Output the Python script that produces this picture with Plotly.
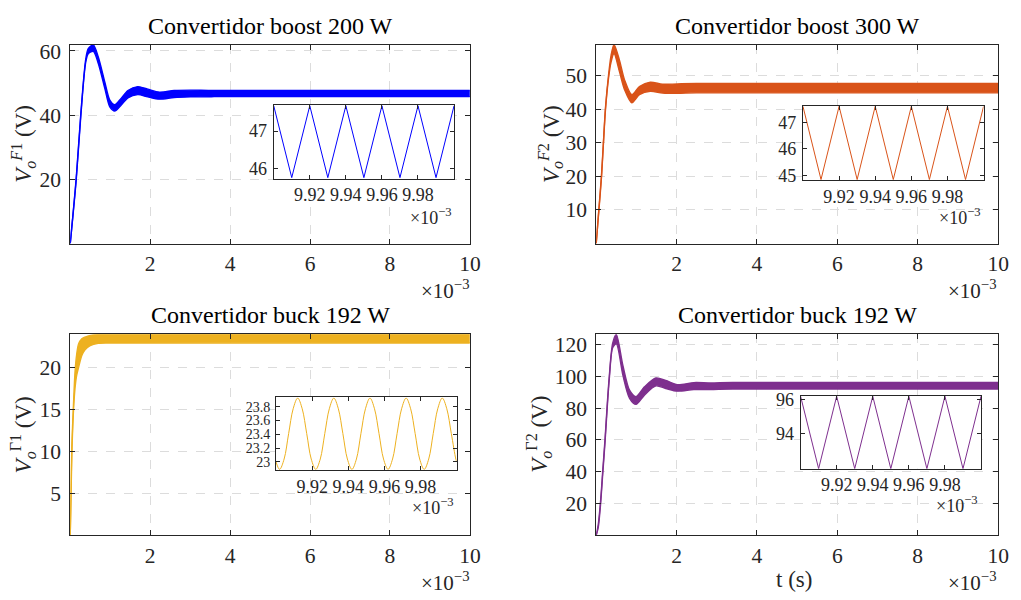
import plotly.graph_objects as go

W, H = 1021, 600

# ---------------- data (time in ms, voltage in V) ----------------
# Boost 200 W: upper / lower edge of the ripple band
t_f1 = [0, 0.149, 0.264, 0.388, 0.454, 0.578, 0.70, 0.866, 0.99, 1.114, 1.238,
        1.444, 1.69, 1.94, 2.23, 2.6, 3.01, 3.6, 10.0]
hi_f1 = [0, 20.3, 40.4, 57.5, 60.8, 61.9, 58.2, 50.3, 44.7, 43.3, 44.7,
         47.7, 48.9, 48.1, 47.2, 47.7, 47.8, 47.68, 47.68]
lo_f1 = [0, 19.7, 39.6, 56.5, 59.2, 59.9, 56.2, 48.3, 42.6, 41.3, 42.6,
         45.4, 46.4, 45.7, 45.0, 45.5, 45.7, 45.77, 45.77]

# Boost 300 W
t_f2 = [0, 0.066, 0.131, 0.18, 0.23, 0.31, 0.37, 0.443, 0.58, 0.705, 0.886,
        1.075, 1.345, 1.65, 2.02, 2.5, 10.0]
hi_f2 = [0, 10.3, 20.3, 30.3, 40.3, 50.5, 56.0, 59.2, 54.5, 48.7, 44.3,
         46.7, 48.0, 47.4, 47.5, 47.61, 47.61]
lo_f2 = [0, 9.7, 19.7, 29.7, 39.7, 49.5, 54.0, 56.5, 51.1, 45.8, 41.9,
         44.3, 45.3, 44.8, 44.7, 44.84, 44.84]

# Buck 192 W (first)
t_g1 = [0, 0.02, 0.04, 0.08, 0.12, 0.16, 0.21, 0.29, 0.37, 0.5, 0.7, 1.0, 10.0]
hi_g1 = [0, 5.5, 10.5, 15.5, 19.5, 21.5, 22.8, 23.4, 23.6, 23.8, 23.9, 23.925, 23.925]
lo_g1 = [0, 4.5, 9.5, 14.7, 17.5, 19.0, 20.0, 21.4, 22.1, 22.6, 22.85, 22.89, 22.89]

# Buck 192 W (second)
t_g2 = [0, 0.05, 0.107, 0.164, 0.221, 0.271, 0.328, 0.41, 0.50, 0.665, 0.83,
        0.99, 1.2, 1.485, 1.73, 2.02, 2.43, 2.84, 3.4, 10.0]
hi_g2 = [0, 6.5, 21, 41, 61, 81, 101, 121, 126.4, 106.8, 91.3,
         87.2, 93.4, 99.0, 97.5, 94.8, 96.1, 95.9, 96.17, 96.17]
lo_g2 = [0, 4.7, 19, 39, 59, 79, 99, 118, 120.5, 100.6, 86.2,
         82.4, 88.2, 94.0, 92.4, 90.7, 91.7, 91.7, 92.0, 92.0]

# steady-state detail, last 0.1 ms
t_zoom = [9.90, 9.91, 9.92, 9.93, 9.94, 9.95, 9.96, 9.97, 9.98, 9.99, 10.00]
v_f1_zoom = [47.67, 45.77, 47.67, 45.77, 47.67, 45.77, 47.67, 45.77, 47.67, 45.77, 47.67]
v_f2_zoom = [47.61, 44.84, 47.61, 44.84, 47.61, 44.84, 47.61, 44.84, 47.61, 44.84, 47.61]
v_g2_zoom = [96.17, 92.0, 96.17, 92.0, 96.17, 92.0, 96.17, 92.0, 96.17, 92.0, 96.17]

t_g1_zoom = [9.900, 9.902, 9.9045, 9.907, 9.9095, 9.912, 9.9145, 9.917, 9.9195,
             9.922, 9.9245, 9.927, 9.9295, 9.932, 9.9345, 9.937, 9.9395,
             9.942, 9.9445, 9.947, 9.9495, 9.952, 9.9545, 9.957, 9.9595,
             9.962, 9.9645, 9.967, 9.9695, 9.972, 9.9745, 9.977, 9.9795,
             9.982, 9.9845, 9.987, 9.9895, 9.992, 9.9945, 9.997, 9.9995, 10.000]
v_g1_zoom = [23.0, 22.89, 23.04, 23.41, 23.77, 23.925, 23.77, 23.41, 23.04,
             22.89, 23.04, 23.41, 23.77, 23.925, 23.77, 23.41, 23.04,
             22.89, 23.04, 23.41, 23.77, 23.925, 23.77, 23.41, 23.04,
             22.89, 23.04, 23.41, 23.77, 23.925, 23.77, 23.41, 23.04,
             22.89, 23.04, 23.41, 23.77, 23.925, 23.77, 23.41, 23.04, 23.0]

x_ticks = [2, 4, 6, 8, 10]
zoom_x_ticks = [9.92, 9.94, 9.96, 9.98]
titles = ["Convertidor boost 200 W", "Convertidor boost 300 W",
          "Convertidor buck 192 W", "Convertidor buck 192 W"]
ylabels = ["<i>V</i><sub><i>o</i></sub><sup><i>F</i>1</sup> (V)",
           "<i>V</i><sub><i>o</i></sub><sup><i>F</i>2</sup> (V)",
           "<i>V</i><sub><i>o</i></sub><sup>Γ1</sup> (V)",
           "<i>V</i><sub><i>o</i></sub><sup>Γ2</sup> (V)"]
colors = ["#0000FF", "#D95319", "#EDB120", "#7E2F8E"]

FONT = "Liberation Serif"
AX = "#262626"


def px(x):
    return x / W


def py(y):
    return 1 - y / H


fig = go.Figure()

# main panels: pixel boxes (left, right, top, bottom)
main_boxes = [(71, 475, 39.3, 242), (602.7, 1009, 39.3, 242),
              (71, 475, 334.3, 539), (602.7, 1009, 334.3, 539)]
inset_boxes = [(276.7, 459, 100.5, 176), (811.7, 994.3, 101.7, 177.3),
               (279, 461.7, 398.7, 472.7), (809.3, 991.7, 397, 471.3)]

bands = [(t_f1, hi_f1, lo_f1), (t_f2, hi_f2, lo_f2),
         (t_g1, hi_g1, lo_g1), (t_g2, hi_g2, lo_g2)]
zooms = [(t_zoom, v_f1_zoom, "linear"), (t_zoom, v_f2_zoom, "linear"),
         (t_g1_zoom, v_g1_zoom, "spline"), (t_zoom, v_g2_zoom, "linear")]

main_yranges = [[0, 62], [0, 59.2], [0, 23.95], [0, 126.6]]
main_yticks = [[20, 40, 60], [10, 20, 30, 40, 50], [5, 10, 15, 20],
               [20, 40, 60, 80, 100, 120]]
zoom_yranges = [[45.74, 47.70], [44.82, 47.63], [22.88, 23.935], [92.0, 96.2]]
zoom_yticks = [[46, 47], [45, 46, 47], [23, 23.2, 23.4, 23.6, 23.8], [94, 96]]
zoom_ytext = [["46", "47"], ["45", "46", "47"],
              ["23", "23.2", "23.4", "23.6", "23.8"], ["94", "96"]]
zoom_yfont = [18, 18, 14, 18]

layout = dict(width=W, height=H, autosize=False,
              margin=dict(l=0, r=0, t=0, b=0),
              paper_bgcolor="white", plot_bgcolor="white",
              showlegend=False, font=dict(family=FONT, color=AX))

for i in range(4):
    n = i + 1
    ax_sfx = "" if n == 1 else str(n)
    t, hi, lo = bands[i]
    c = colors[i]
    fig.add_trace(go.Scatter(x=t, y=lo, mode="lines",
                             line=dict(color=c, width=1.4, shape="spline", smoothing=0.8),
                             xaxis="x" + ax_sfx, yaxis="y" + ax_sfx, hoverinfo="skip"))
    fig.add_trace(go.Scatter(x=t, y=hi, mode="lines", fill="tonexty", fillcolor=c,
                             line=dict(color=c, width=1.4, shape="spline", smoothing=0.8),
                             xaxis="x" + ax_sfx, yaxis="y" + ax_sfx, hoverinfo="skip"))
    l, r, tp, b = main_boxes[i]
    common = dict(showline=True, linecolor=AX, linewidth=1, mirror="ticks",
                  ticks="inside", ticklen=5, tickcolor=AX, tickwidth=1,
                  showgrid=True, gridcolor="#dcdcdc", griddash="dash", gridwidth=1,
                  zeroline=False, tickfont=dict(family=FONT, size=21.5, color=AX))
    layout["xaxis" + ax_sfx] = dict(domain=[px(l), px(r)], range=[0, 10],
                                    anchor="y" + ax_sfx, tickvals=x_ticks,
                                    ticktext=[str(v) for v in x_ticks],
                                    ticklabelstandoff=1, **common)
    layout["yaxis" + ax_sfx] = dict(domain=[py(b), py(tp)], range=main_yranges[i],
                                    anchor="x" + ax_sfx, tickvals=main_yticks[i],
                                    ticktext=[str(v) for v in main_yticks[i]],
                                    ticklabelstandoff=4, **common)

for i in range(4):
    n = i + 5
    tz, vz, shape = zooms[i]
    c = colors[i]
    fig.add_trace(go.Scatter(x=tz, y=vz, mode="lines",
                             line=dict(color=c, width=1, shape=shape, smoothing=1.0),
                             xaxis="x%d" % n, yaxis="y%d" % n, hoverinfo="skip"))
    l, r, tp, b = inset_boxes[i]
    common = dict(showline=True, linecolor=AX, linewidth=1, mirror="ticks",
                  ticks="inside", ticklen=4, tickcolor=AX, tickwidth=1,
                  showgrid=False, zeroline=False)
    layout["xaxis%d" % n] = dict(domain=[px(l), px(r)], range=[9.90, 10.00],
                                 anchor="y%d" % n, tickvals=zoom_x_ticks,
                                 ticktext=["%.2f" % v for v in zoom_x_ticks],
                                 ticklabelstandoff=0,
                                 tickfont=dict(family=FONT, size=18, color=AX), **common)
    layout["yaxis%d" % n] = dict(domain=[py(b), py(tp)], range=zoom_yranges[i],
                                 anchor="x%d" % n, tickvals=zoom_yticks[i],
                                 ticktext=zoom_ytext[i], ticklabelstandoff=2,
                                 tickfont=dict(family=FONT, size=zoom_yfont[i], color=AX),
                                 **common)

ann = []
title_y = [20, 20, 315, 315]
ylab_x = [23, 556, 23, 545]
for i in range(4):
    l, r, tp, b = main_boxes[i]
    ann.append(dict(text=titles[i], x=px((l + r) / 2), y=py(title_y[i]),
                    xref="paper", yref="paper", xanchor="center", yanchor="middle",
                    showarrow=False, font=dict(family=FONT, size=24, color="black")))
    ann.append(dict(text=ylabels[i], x=px(ylab_x[i]), y=py((tp + b) / 2),
                    xref="paper", yref="paper", xanchor="center", yanchor="middle",
                    textangle=-90, showarrow=False,
                    font=dict(family=FONT, size=23, color=AX)))

exp_main = [(476, 289), (1009, 289), (476, 586), (1009, 586)]
exp_zoom = [(459, 214), (994, 214), (461, 510), (991, 508)]
for (x, y) in exp_main:
    ann.append(dict(text="×10<sup>−3</sup>", x=px(x), y=py(y), xref="paper", yref="paper",
                    xanchor="right", yanchor="middle", showarrow=False,
                    font=dict(family=FONT, size=21, color=AX)))
for (x, y) in exp_zoom:
    ann.append(dict(text="×10<sup>−3</sup>", x=px(x), y=py(y), xref="paper", yref="paper",
                    xanchor="right", yanchor="middle", showarrow=False,
                    font=dict(family=FONT, size=18, color=AX)))

ann.append(dict(text="t (s)", x=px(803), y=py(584), xref="paper", yref="paper",
                xanchor="center", yanchor="middle", showarrow=False,
                font=dict(family=FONT, size=23, color=AX)))

layout["annotations"] = ann
fig.update_layout(**layout)
fig.write_html("out.html")
